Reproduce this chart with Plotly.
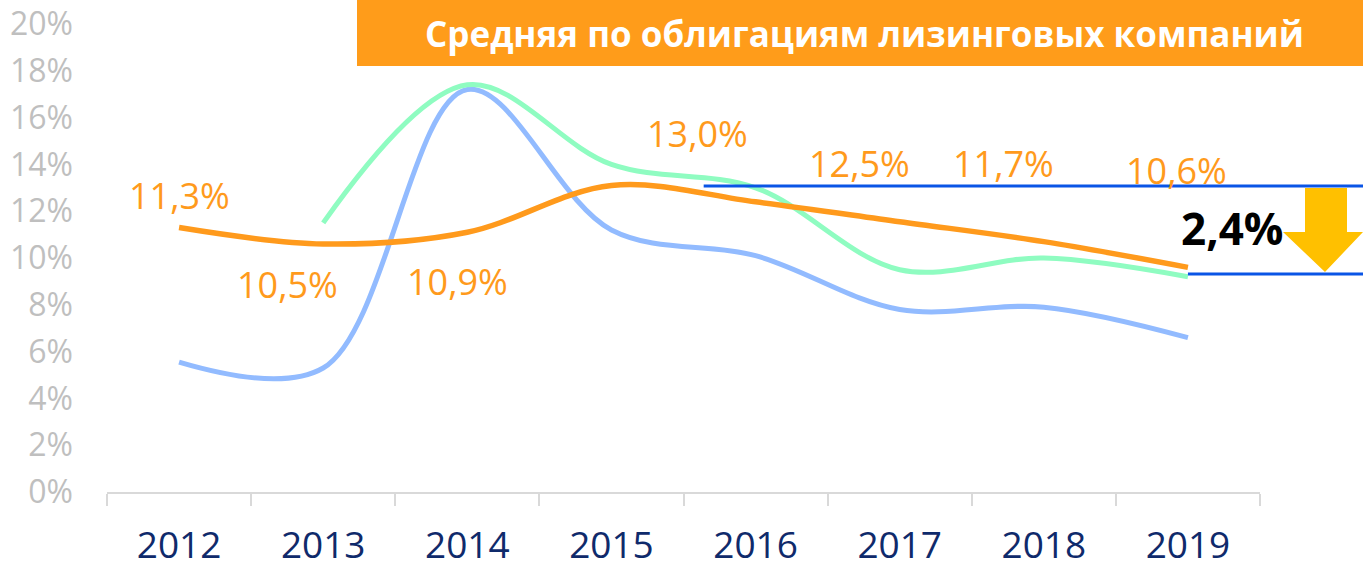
import plotly.graph_objects as go

years = ["2012", "2013", "2014", "2015", "2016", "2017", "2018", "2019"]
orange_vals = [11.3, 10.6, 11.1, 13.1, 12.4, 11.55, 10.7, 9.6]
blue_vals = [5.55, 5.3, 17.2, 11.2, 10.1, 7.8, 7.9, 6.6]
green_vals = [None, 11.5, 17.4, 14.0, 13.0, 9.5, 10.0, 9.2]

label_texts = ["11,3%", "10,5%", "10,9%", "13,0%", "12,5%", "11,7%", "10,6%"]
label_x = [0.0, 0.75, 1.93, 3.6, 4.72, 5.72, 6.92]
label_y = [12.65, 8.85, 9.0, 15.3, 14.05, 14.05, 13.75]

upper_level = 13.08
lower_level = 9.32
diff_text = "2,4%"
title_text = "Средняя по облигациям лизинговых компаний"

ORANGE = "#FF9A1C"
BLUE = "#92BBFF"
GREEN = "#8FFCC1"
LINEBLUE = "#0A55E6"
GOLD = "#FFC000"

W, H = 1363, 561
L, R, T, B = 107, 1260, 24, 492
n = len(years)

def px_x(px):
    return (px - L) / (R - L)

def px_y(py):
    return (B - py) / (B - T)

def idx_paper(i):
    return (i + 0.5) / n

def ydata(py):
    return (B - py) / (B - T) * 20

fig = go.Figure()
fig.add_trace(go.Scatter(x=years, y=blue_vals, mode="lines",
                         line=dict(color=BLUE, width=5, shape="spline"), showlegend=False))
fig.add_trace(go.Scatter(x=years, y=green_vals, mode="lines",
                         line=dict(color=GREEN, width=5, shape="spline"), showlegend=False))
fig.add_trace(go.Scatter(x=years, y=orange_vals, mode="lines",
                         line=dict(color=ORANGE, width=5.5, shape="spline"), showlegend=False))

shapes = []
# title box
shapes.append(dict(type="rect", xref="paper", yref="paper",
                   x0=px_x(357), x1=px_x(W + 5), y0=px_y(66), y1=px_y(-5),
                   fillcolor="#FF9C1A", line=dict(width=0), layer="above"))
# horizontal level lines
shapes.append(dict(type="line", xref="paper", yref="y",
                   x0=idx_paper(3.64), x1=px_x(W + 5), y0=upper_level, y1=upper_level,
                   line=dict(color=LINEBLUE, width=3)))
shapes.append(dict(type="line", xref="paper", yref="y",
                   x0=idx_paper(7.0), x1=px_x(W + 5), y0=lower_level, y1=lower_level,
                   line=dict(color=LINEBLUE, width=3)))
# arrow
pts = [(1305, 188), (1347, 188), (1347, 232), (1363, 232), (1325, 272), (1283, 232), (1305, 232)]
path = "M " + " L ".join(f"{px_x(a)},{ydata(b)}" for a, b in pts) + " Z"
shapes.append(dict(type="path", xref="paper", yref="y", path=path,
                   fillcolor=GOLD, line=dict(width=0)))

annotations = []
for t, xi, yi in zip(label_texts, label_x, label_y):
    annotations.append(dict(x=idx_paper(xi), xref="paper", y=yi, yref="y", text=t,
                            showarrow=False, font=dict(family="Open Sans", size=36, color=ORANGE),
                            xanchor="center", yanchor="middle"))
annotations.append(dict(x=px_x(1232), xref="paper", y=ydata(228), yref="y", text=f"<b>{diff_text}</b>",
                        showarrow=False, font=dict(family="Open Sans", size=44, color="#000000"),
                        xanchor="center", yanchor="middle"))
annotations.append(dict(x=px_x(864), xref="paper", y=px_y(33), yref="paper", text=f"<b>{title_text}</b>",
                        showarrow=False, font=dict(family="Open Sans", size=35, color="#FFFFFF"),
                        xanchor="center", yanchor="middle"))

fig.update_layout(
    width=W, height=H,
    margin=dict(l=L, r=W - R, t=T, b=H - B, pad=0, autoexpand=False),
    paper_bgcolor="white", plot_bgcolor="white",
    shapes=shapes, annotations=annotations,
    xaxis=dict(type="category", tickson="boundaries", ticks="outside", ticklen=12,
               tickcolor="#D9D9D9", tickwidth=2, showline=True, linecolor="#D9D9D9", linewidth=2,
               showgrid=False, zeroline=False, range=[-0.5, n - 0.5], automargin=False,
               tickfont=dict(family="Open Sans", size=37, color="#0F2A6B"),
               ticklabelstandoff=20),
    yaxis=dict(range=[0, 20], dtick=2, ticksuffix="%", showgrid=False, zeroline=False,
               showline=False, ticks="", ticklabelstandoff=33, automargin=False,
               tickfont=dict(family="Open Sans", size=32, color="#BFBFBF")),
)

fig.write_html("out.html", config={"displayModeBar": False},
               post_script="document.body.style.margin='0';document.body.style.overflow='hidden';")
